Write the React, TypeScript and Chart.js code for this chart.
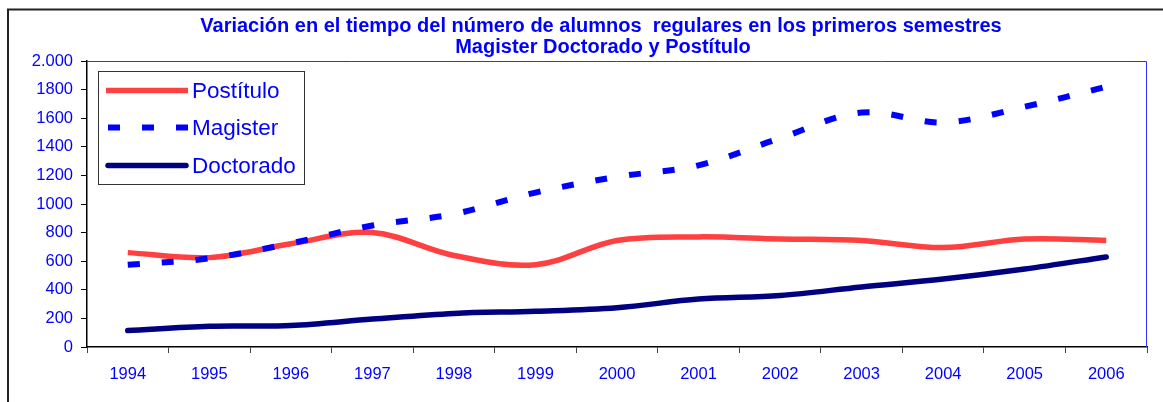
import React, { useEffect, useRef } from "react";
import { Chart, registerables } from "chart.js";

Chart.register(...registerables);

const years = ["1994", "1995", "1996", "1997", "1998", "1999", "2000", "2001", "2002", "2003", "2004", "2005", "2006"];
const postitulo = [660, 625, 722, 800, 640, 575, 745, 770, 755, 745, 695, 755, 745];
const magister = [575, 620, 725, 850, 930, 1080, 1190, 1270, 1460, 1640, 1570, 1680, 1820];
const doctorado = [115, 145, 150, 195, 235, 250, 275, 335, 360, 420, 475, 545, 630];

const yTickLabels: Record<number, string> = {
  0: "0", 200: "200", 400: "400", 600: "600", 800: "800", 1000: "1000",
  1200: "1200", 1400: "1400", 1600: "1600", 1800: "1800", 2000: "2.000",
};

const titleLines = [
  "Variación en el tiempo del número de alumnos  regulares en los primeros semestres",
  "Magister Doctorado y Postítulo",
];

const legendOrder = ["Postítulo", "Magister", "Doctorado"];

const FONT = "'Liberation Sans', Arial, sans-serif";
const BLUE = "#0000FF";

const decor = {
  id: "decor",
  beforeDraw(chart: any) {
    const ctx = chart.ctx;
    ctx.save();
    ctx.fillStyle = "#fff";
    ctx.fillRect(0, 0, chart.width, chart.height);
    ctx.strokeStyle = "#222";
    ctx.lineWidth = 2;
    ctx.beginPath();
    ctx.moveTo(8, chart.height);
    ctx.lineTo(8, 9.5);
    ctx.lineTo(chart.width, 9.5);
    ctx.stroke();
    ctx.restore();
  },
  afterDraw(chart: any) {
    const ctx = chart.ctx;
    const a = chart.chartArea;
    ctx.save();
    // plot area top/right border
    ctx.strokeStyle = "#3030ff";
    ctx.lineWidth = 1;
    ctx.beginPath();
    ctx.moveTo(a.left, a.top + 0.5);
    ctx.lineTo(a.right - 0.5, a.top + 0.5);
    ctx.lineTo(a.right - 0.5, a.bottom);
    ctx.stroke();

    // title
    ctx.fillStyle = BLUE;
    ctx.font = `bold 20px ${FONT}`;
    ctx.textAlign = "center";
    ctx.textBaseline = "alphabetic";
    const cx = (a.left + a.right) / 2 - 16;
    ctx.fillText(titleLines[0], cx, 31.5);
    ctx.fillText(titleLines[1], cx + 2, 52.5);

    // legend
    const bx = 98.5, by = 71.5, bw = 206, bh = 113;
    ctx.fillStyle = "#fff";
    ctx.fillRect(bx, by, bw, bh);
    ctx.strokeStyle = "#333";
    ctx.lineWidth = 1;
    ctx.strokeRect(bx, by, bw, bh);
    const rows = [90.5, 127.5, 165.5];
    legendOrder.forEach((name, i) => {
      const ds = chart.data.datasets.find((d: any) => d.label === name);
      if (!ds) return;
      const y = rows[i];
      ctx.save();
      ctx.strokeStyle = ds.borderColor;
      ctx.lineWidth = ds.borderWidth;
      ctx.lineCap = ds.borderCapStyle || "butt";
      ctx.setLineDash(ds.borderDash || []);
      ctx.lineDashOffset = -2;
      ctx.beginPath();
      const x0 = ds.borderCapStyle === "round" ? 108 : 106;
      const x1 = ds.borderCapStyle === "round" ? 186 : 188;
      ctx.moveTo(x0, y);
      ctx.lineTo(x1, y);
      ctx.stroke();
      ctx.restore();
      ctx.fillStyle = BLUE;
      ctx.font = `22.5px ${FONT}`;
      ctx.textAlign = "left";
      ctx.textBaseline = "alphabetic";
      ctx.fillText(name, 192, y + 7.5);
    });
    ctx.restore();
  },
};

export default function App() {
  const ref = useRef<HTMLCanvasElement | null>(null);

  useEffect(() => {
    if (!ref.current) return;
    const chart = new Chart(ref.current, {
      type: "line",
      data: {
        labels: years,
        datasets: [
          {
            label: "Postítulo",
            data: postitulo,
            borderColor: "#FF4040",
            backgroundColor: "#FF4040",
            borderWidth: 5.5,
            borderCapStyle: "butt",
            pointRadius: 0,
            tension: 0.35,
            order: 1,
          },
          {
            label: "Magister",
            data: magister,
            borderColor: "#0000FF",
            backgroundColor: "#0000FF",
            borderWidth: 6,
            borderDash: [12, 22],
            borderCapStyle: "butt",
            pointRadius: 0,
            tension: 0.35,
            order: 0,
          },
          {
            label: "Doctorado",
            data: doctorado,
            borderColor: "#000080",
            backgroundColor: "#000080",
            borderWidth: 5.5,
            borderCapStyle: "round",
            pointRadius: 0,
            tension: 0.35,
            order: 2,
          },
        ],
      },
      options: {
        responsive: false,
        animation: false,
        devicePixelRatio: 1,
        layout: { padding: { left: 0, top: 61, right: 16, bottom: 0 } },
        plugins: {
          legend: { display: false },
          title: { display: false },
          tooltip: { enabled: false },
        },
        scales: {
          x: {
            type: "category",
            offset: true,
            afterFit: (s: any) => { s.height = 55; },
            grid: {
              offset: true,
              drawOnChartArea: false,
              drawTicks: true,
              tickLength: 6,
              color: "#444",
            },
            border: { color: "#000", width: 1.5 },
            ticks: {
              color: BLUE,
              font: { family: FONT, size: 16.5 },
              padding: 12,
              maxRotation: 0,
              autoSkip: false,
            },
          },
          y: {
            min: 0,
            max: 2000,
            afterFit: (s: any) => { s.width = 87; },
            grid: {
              drawOnChartArea: false,
              drawTicks: true,
              tickLength: 6,
              color: "#000",
            },
            border: { color: "#000", width: 1.5 },
            ticks: {
              stepSize: 200,
              color: BLUE,
              font: { family: FONT, size: 16.5 },
              padding: 8,
              callback: (v: any) => yTickLabels[Number(v)] ?? "",
            },
          },
        },
      },
      plugins: [decor],
    });
    return () => chart.destroy();
  }, []);

  return (
    <div style={{ position: "absolute", left: 0, top: 0, width: 1163, height: 402, overflow: "hidden", background: "#fff" }}>
      <canvas ref={ref} width={1163} height={402} style={{ display: "block", width: 1163, height: 402 }} />
    </div>
  );
}
